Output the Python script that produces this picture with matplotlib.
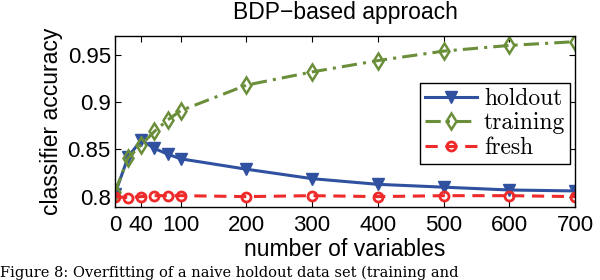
import matplotlib
matplotlib.use("Agg")
import matplotlib.pyplot as plt

x_vals = [0, 20, 40, 60, 80, 100, 200, 300, 400, 500, 600, 700]
holdout = [0.803, 0.842, 0.860, 0.851, 0.845, 0.840, 0.829, 0.819, 0.813, 0.810, 0.807, 0.806]
training = [0.805, 0.841, 0.855, 0.869, 0.881, 0.891, 0.918, 0.932, 0.944, 0.954, 0.960, 0.964]
fresh = [0.800, 0.799, 0.800, 0.801, 0.801, 0.801, 0.800, 0.801, 0.800, 0.801, 0.801, 0.800]
xticks = [0, 40, 100, 200, 300, 400, 500, 600, 700]
yticks = [0.8, 0.85, 0.9, 0.95]
ytick_labels = ["0.8", "0.85", "0.9", "0.95"]

plt.rcParams['font.family'] = ['Liberation Sans', 'DejaVu Sans']

fig = plt.figure(figsize=(6, 2.8), dpi=100)
ax = fig.add_axes([115/600, 1 - 207/280, (575-115)/600, (207-36)/280])

ax.plot(x_vals, holdout, color='#3050a0', lw=2.2, marker='v', ms=8,
        mfc='#3050a0', mec='#3050a0', label='holdout')
ax.plot(x_vals, training, color='#6b8e3a', lw=2.2, ls=(0, (5, 2, 1, 2)), marker='d', ms=8,
        mfc='none', mec='#6b8e3a', mew=1.8, label='training')
ax.plot(x_vals, fresh, color='#ee2a2a', lw=2.2, ls=(0, (4, 2.5)), marker='o', ms=6.5,
        mfc='none', mec='#ee2a2a', mew=2, label='fresh')

ax.set_xlim(0, 700)
ax.set_ylim(0.789, 0.970)
ax.set_xticks(xticks)
ax.set_xticklabels([str(t) for t in xticks])
ax.set_yticks(yticks)
ax.set_yticklabels(ytick_labels)
ax.tick_params(axis='both', direction='in', top=True, right=True, labelsize=16, length=4)
ax.tick_params(axis='x', pad=6)
ax.tick_params(axis='y', pad=3)
for s in ax.spines.values():
    s.set_linewidth(1)

ax.set_title("BDP\u2212based approach", fontsize=16.5, pad=12)
ax.set_xlabel("number of variables", fontsize=16.5, labelpad=1)
ax.set_ylabel("classifier accuracy", fontsize=16.5, labelpad=3)

leg = ax.legend(loc='upper right', bbox_to_anchor=(1 - 5/460, 1 - 47/171), fancybox=False,
                edgecolor='black', framealpha=1, handlelength=2.2, handletextpad=0.3,
                borderpad=0.2, labelspacing=0.1, borderaxespad=0,
                prop={'family': 'cmr10', 'size': 17})
leg.get_frame().set_linewidth(1)

fig.text(0.0, 0.5/280, "Figure 8: Overfitting of a naive holdout data set (training and",
         fontsize=10.5, family='DejaVu Serif', va='bottom', ha='left')

fig.savefig("out.png", dpi=100)
